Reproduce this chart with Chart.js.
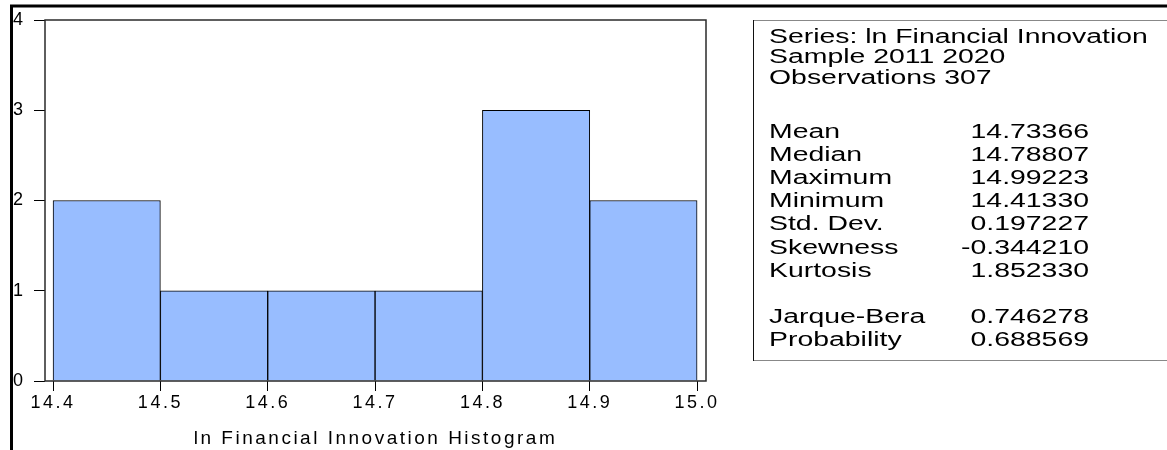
<!DOCTYPE html>
<html>
<head>
<meta charset="utf-8">
<script src="https://cdn.jsdelivr.net/npm/chart.js@4"></script>
<style>
  html, body { margin: 0; padding: 0; background: #fff; }
  #wrap { width: 1167px; height: 450px; position: relative; }
</style>
</head>
<body>
<div id="wrap"><canvas id="c" width="1167" height="450"></canvas></div>
<script>
// Histogram bins (centres), counts and axis ticks
const binCenters = [14.45, 14.55, 14.65, 14.75, 14.85, 14.95];
const counts = [2, 1, 1, 1, 3, 2];
const xTicks = [14.4, 14.5, 14.6, 14.7, 14.8, 14.9, 15.0];
const yTicks = [0, 1, 2, 3, 4];

// Descriptive statistics panel
const headerLines = ['Series: ln Financial Innovation', 'Sample 2011 2020', 'Observations 307'];
const statNames = ['Mean', 'Median', 'Maximum', 'Minimum', 'Std. Dev.', 'Skewness', 'Kurtosis'];
const statValues = ['14.73366', '14.78807', '14.99223', '14.41330', '0.197227', '-0.344210', '1.852330'];
const testNames = ['Jarque-Bera', 'Probability'];
const testValues = ['0.746278', '0.688569'];

const FONT = '"Liberation Sans", Arial, sans-serif';
const SPACING = '2.5px';

const spacingPlugin = {
  id: 'spacing',
  beforeUpdate(chart) { chart.ctx.letterSpacing = SPACING; },
  beforeDraw(chart) { chart.ctx.letterSpacing = SPACING; }
};

const framePlugin = {
  id: 'frame',
  afterDatasetsDraw(chart) {
    const { ctx, chartArea: a } = chart;
    ctx.save();
    ctx.strokeStyle = '#2a2a2a';
    ctx.lineWidth = 1.5;
    ctx.strokeRect(a.left, a.top, a.right - a.left, a.bottom - a.top);
    ctx.restore();
  }
};

const borderPlugin = {
  id: 'outerBorder',
  afterDraw(chart) {
    const ctx = chart.ctx;
    ctx.save();
    ctx.strokeStyle = '#000';
    ctx.lineWidth = 3;
    ctx.beginPath();
    ctx.moveTo(11.5, 450);
    ctx.lineTo(11.5, 6);
    ctx.lineTo(1167, 6);
    ctx.stroke();
    ctx.restore();
  }
};

// wide sans text, as in the statistics table
function wideText(ctx, text, x, y, align) {
  ctx.save();
  ctx.translate(x, y);
  ctx.scale(1.42, 1);
  ctx.textAlign = align;
  ctx.fillText(text, 0, 0);
  ctx.restore();
}

const statsPlugin = {
  id: 'statsPanel',
  afterDraw(chart) {
    const ctx = chart.ctx;
    const left = 753, top = 20, bottom = 360;
    ctx.save();
    ctx.lineWidth = 1;
    ctx.strokeStyle = '#888';
    ctx.beginPath();
    ctx.moveTo(left, top + 0.5); ctx.lineTo(1167, top + 0.5);
    ctx.moveTo(left, bottom + 0.5); ctx.lineTo(1167, bottom + 0.5);
    ctx.stroke();
    ctx.strokeStyle = '#111';
    ctx.beginPath();
    ctx.moveTo(left + 0.5, top); ctx.lineTo(left + 0.5, bottom + 1);
    ctx.stroke();

    ctx.fillStyle = '#000';
    ctx.font = '20px ' + FONT;
    ctx.letterSpacing = '0px';
    ctx.textBaseline = 'middle';
    const textX = 769, valX = 1089, step = 23.2;
    const headerY = [37, 57.5, 78];
    headerLines.forEach((t, i) => wideText(ctx, t, textX, headerY[i], 'left'));
    statNames.forEach((n, i) => {
      const y = 132 + i * step;
      wideText(ctx, n, textX, y, 'left');
      wideText(ctx, statValues[i], valX, y, 'right');
    });
    testNames.forEach((n, i) => {
      const y = 317 + i * step;
      wideText(ctx, n, textX, y, 'left');
      wideText(ctx, testValues[i], valX, y, 'right');
    });
    ctx.restore();
  }
};

new Chart(document.getElementById('c'), {
  type: 'bar',
  data: {
    datasets: [{
      data: binCenters.map((x, i) => ({ x: x, y: counts[i] })),
      backgroundColor: '#98BDFF',
      borderColor: '#000',
      borderWidth: 1,
      barPercentage: 1,
      categoryPercentage: 1
    }]
  },
  options: {
    responsive: false,
    animation: false,
    devicePixelRatio: 1,
    layout: { padding: { left: 13, top: 20, right: 461, bottom: 0 } },
    plugins: { legend: { display: false }, tooltip: { enabled: false } },
    scales: {
      x: {
        type: 'linear',
        offset: false,
        min: 14.3925,
        max: 15.0083,
        afterBuildTicks(s) { s.ticks = xTicks.map(v => ({ value: v })); },
        afterFit(s) { s.height = 69; },
        border: { display: false },
        grid: { offset: false, drawOnChartArea: false, drawTicks: true, tickLength: 10, color: '#000', lineWidth: 1 },
        ticks: {
          autoSkip: false,
          maxRotation: 0,
          padding: 1,
          color: '#000',
          font: { family: FONT, size: 18 },
          callback: v => Number(v).toFixed(1)
        },
        title: {
          display: true,
          text: 'ln Financial Innovation Histogram',
          color: '#000',
          font: { family: FONT, size: 19 },
          padding: { top: 6, bottom: 0 }
        }
      },
      y: {
        min: 0,
        max: 4,
        afterBuildTicks(s) { s.ticks = yTicks.map(v => ({ value: v })); },
        afterFit(s) { s.width = 32; },
        border: { display: false },
        grid: { drawOnChartArea: false, drawTicks: true, tickLength: 11, color: '#000', lineWidth: 1 },
        ticks: {
          crossAlign: 'far',
          color: '#000',
          font: { family: FONT, size: 18 },
          callback: v => String(v)
        }
      }
    }
  },
  plugins: [spacingPlugin, framePlugin, borderPlugin, statsPlugin]
});
</script>
</body>
</html>
